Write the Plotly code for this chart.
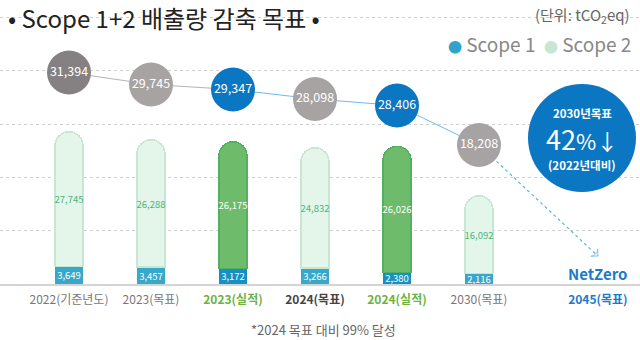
import plotly.graph_objects as go

# ---------------- data ----------------
categories = ["2022(기준년도)", "2023(목표)", "2023(실적)", "2024(목표)", "2024(실적)", "2030(목표)"]
scope1 = [3649, 3457, 3172, 3266, 2380, 2116]
scope2 = [27745, 26288, 26175, 24832, 26026, 16092]
totals = [31394, 29745, 29347, 28098, 28406, 18208]
is_actual = [False, False, True, False, True, False]
netzero_label = "2045(목표)"

# ---------------- layout helpers ----------------
W, H = 640, 340
PLOT_BOTTOM = 284            # pixel row of the baseline
X0_PX, STEP_PX = 69, 82      # pixel centre of first category, spacing
Y_SCALE = 0.004848           # px per tCO2eq
x_idx = list(range(len(categories)))
x_netzero = 6.45

y_max = PLOT_BOTTOM / Y_SCALE
x_min = -X0_PX / STEP_PX
x_max = (W - X0_PX) / STEP_PX

def py_to_y(py):
    return (PLOT_BOTTOM - py) / Y_SCALE

def px_to_paper(px):
    return px / W

def py_to_paper(py):
    return (PLOT_BOTTOM - py) / PLOT_BOTTOM

# decorative bubble track (pixel rows of bubble centres)
bubble_rows = [72.5, 84.5, 89.5, 99, 105.5, 145]
bubble_y = [py_to_y(r) for r in bubble_rows]

FONT = "Noto Sans CJK KR"

s1_colors = ["#1690c0" if a else "#37a7ca" for a in is_actual]
s2_fill = ["#6dbb6b" if a else "#e4f5ea" for a in is_actual]
s2_line = ["#52b160" if a else "#c6e8d3" for a in is_actual]
s2_text = ["#ffffff" if a else "#4cb67a" for a in is_actual]
bubble_colors = ["#858081", "#a8a3a3", "#0b76c1", "#a8a3a3", "#0b76c1", "#a8a3a3"]

fig = go.Figure()

fig.add_trace(go.Bar(
    x=x_idx, y=scope1, name="Scope 1", width=0.34,
    marker=dict(color=s1_colors, line=dict(color=s1_colors, width=0)),
    text=[f"{v:,}" for v in scope1], textposition="inside", textangle=0,
    insidetextanchor="middle", constraintext="none",
    textfont=dict(color="white", size=9.5, family=FONT),
    showlegend=False, hoverinfo="skip",
))
fig.add_trace(go.Bar(
    x=x_idx, y=scope2, name="Scope 2", width=0.34,
    marker=dict(color=s2_fill, line=dict(color=s2_line, width=1.5)),
    text=[f"{v:,}" for v in scope2], textposition="inside", textangle=0,
    insidetextanchor="middle", constraintext="none",
    textfont=dict(color=s2_text, size=9.5, family=FONT),
    showlegend=False, hoverinfo="skip",
))

# connecting lines
fig.add_trace(go.Scatter(
    x=x_idx[:3], y=bubble_y[:3], mode="lines",
    line=dict(color="#b4b4b4", width=1), showlegend=False, hoverinfo="skip"))
fig.add_trace(go.Scatter(
    x=x_idx[2:], y=bubble_y[2:], mode="lines",
    line=dict(color="#6cbbea", width=1), showlegend=False, hoverinfo="skip"))

# dotted arrow to NetZero
arrow_end_y = py_to_y(256)
fig.add_trace(go.Scatter(
    x=[x_idx[-1], x_netzero], y=[bubble_y[-1], arrow_end_y], mode="lines+markers",
    line=dict(color="#5ab3e6", width=1.2, dash="dot"),
    marker=dict(symbol=["circle", "arrow-wide-open"], size=[0, 7], angleref="previous",
                color="#5ab3e6", line=dict(color="#5ab3e6", width=1)),
    showlegend=False, hoverinfo="skip"))

# bubbles
fig.add_trace(go.Scatter(
    x=x_idx, y=bubble_y, mode="markers+text",
    marker=dict(size=44, color=bubble_colors, line=dict(width=0)),
    text=[f"{v:,}" for v in totals], textposition="middle center",
    textfont=dict(color="white", size=12.5, family=FONT),
    showlegend=False, hoverinfo="skip"))

# big 2030 target circle
big_x = (582 - X0_PX) / STEP_PX
big_y = py_to_y(138)
fig.add_trace(go.Scatter(
    x=[big_x], y=[big_y], mode="markers",
    marker=dict(size=108, color="#0b76c1", line=dict(width=0)),
    showlegend=False, hoverinfo="skip"))

annotations = [
    dict(x=big_x, y=big_y, xref="x", yref="y", yshift=25, showarrow=False,
         text="<b>2030년목표</b>", font=dict(color="white", size=11.5, family=FONT)),
    dict(x=big_x, y=big_y, xref="x", yref="y", yshift=0, showarrow=False,
         text="<span style='font-size:27px'>42</span><span style='font-size:22px'>%↓</span>",
         font=dict(color="white", size=24, family=FONT)),
    dict(x=big_x, y=big_y, xref="x", yref="y", yshift=-27, showarrow=False,
         text="<b>(2022년대비)</b>", font=dict(color="white", size=11.5, family=FONT)),
    dict(x=x_netzero, y=py_to_y(273), xref="x", yref="y", showarrow=False,
         text="<b>NetZero</b>", font=dict(color="#1a7cc7", size=15, family=FONT)),
    # title
    dict(x=px_to_paper(6), y=py_to_paper(17), xref="paper", yref="paper",
         xanchor="left", yanchor="middle", showarrow=False,
         text="• Scope 1+2 배출량 감축 목표 •", font=dict(color="#222222", size=24, family=FONT)),
    # unit
    dict(x=px_to_paper(632), y=py_to_paper(15), xref="paper", yref="paper",
         xanchor="right", yanchor="middle", showarrow=False,
         text="(단위: tCO<sub>2</sub>eq)", font=dict(color="#666666", size=15, family=FONT)),
    # legend
    dict(x=px_to_paper(633), y=py_to_paper(43), xref="paper", yref="paper",
         xanchor="right", yanchor="middle", showarrow=False,
         text=("<span style='color:#2fa4c8;font-size:14px'>●</span> Scope 1  "
               "<span style='color:#c8e6d6;font-size:14px'>●</span> Scope 2"),
         font=dict(color="#888888", size=19, family=FONT)),
    # footnote
    dict(x=px_to_paper(323), y=py_to_paper(329), xref="paper", yref="paper",
         xanchor="center", yanchor="middle", showarrow=False,
         text="*2024 목표 대비 99% 달성", font=dict(color="#666666", size=13, family=FONT)),
]

def tick_style(cat, actual):
    if actual:
        return f"<b><span style='color:#6cb33f'>{cat}</span></b>"
    if cat == "2024(목표)":
        return f"<b><span style='color:#444444'>{cat}</span></b>"
    return f"<span style='color:#777777'>{cat}</span>"

tickvals = x_idx + [x_netzero]
ticktext = [tick_style(c, a) for c, a in zip(categories, is_actual)] + \
    [f"<b><span style='color:#1a7cc7'>{netzero_label}</span></b>"]

fig.update_layout(
    width=W, height=H,
    margin=dict(l=0, r=0, t=0, b=H - PLOT_BOTTOM),
    paper_bgcolor="white", plot_bgcolor="white",
    barmode="stack", barcornerradius=14,
    uniformtext=dict(minsize=9.5, mode="show"),
    font=dict(family=FONT),
    annotations=annotations,
    xaxis=dict(range=[x_min, x_max], tickvals=tickvals, ticktext=ticktext,
               showgrid=False, zeroline=False, showline=True, linecolor="#d4d4d4",
               linewidth=1.5, ticks="", tickfont=dict(size=12, family=FONT),
               ticklabelstandoff=4, fixedrange=True),
    yaxis=dict(range=[0, y_max], dtick=11000, tick0=0, showgrid=True,
               gridcolor="#cfcfcf", griddash="dot", gridwidth=1,
               showticklabels=False, zeroline=False, showline=False, fixedrange=True),
)

fig.write_html("out.html")
